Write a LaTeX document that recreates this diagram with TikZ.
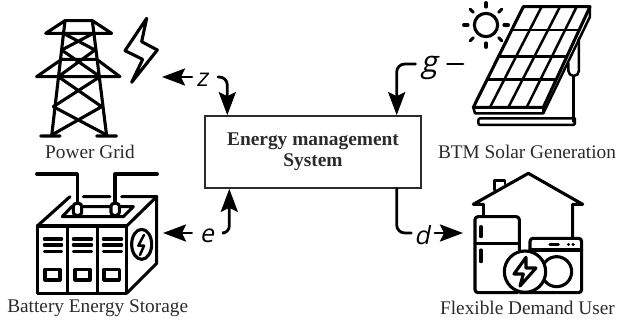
\documentclass[tikz,border=0pt]{standalone}
\usepackage{fontspec}
\setmainfont{Liberation Serif}
\newfontfamily\varfont[FakeSlant=0.2]{Open Sans}
\usetikzlibrary{arrows.meta}
\definecolor{txt}{HTML}{2B2B2B}
\tikzset{
  zoomed/.style={x=0.33333pt,y=-0.33333pt,line width=3.1pt,line cap=round,line join=round,black},
  thin part/.style={line width=2.5pt},
  caption/.style={font=\fontsize{19.3}{22}\selectfont,text=txt,inner sep=0pt},
  varlabel/.style={font=\varfont\fontsize{25}{25}\selectfont,text=black,inner sep=0pt},
  emsbox/.style={draw=txt,line width=1.7pt,fill=white,minimum width=215.7pt,minimum height=72pt,
     align=center,inner sep=0pt,text=txt,font=\bfseries\fontsize{19.4}{21}\selectfont},
  flow/.style={line width=2.8pt,black,line cap=round,-{Stealth[length=23pt,width=17pt,inset=4pt]}},
  flowplain/.style={line width=2.8pt,black,line cap=round},
}
\begin{document}
\begin{tikzpicture}[x=1pt,y=-1pt]
\useasboundingbox (0,0) rectangle (618,326);
\fill[white] (0,0) rectangle (618,326);

% power grid icon
\begin{scope}[zoomed]
  \draw (137,100)--(335,100) (195,62)--(277,62) (137,100)--(195,62) (335,100)--(277,62);
  \draw (110,230)--(360,230) (110,230)--(185,178)--(290,178)--(360,230);
  \draw (195,62)--(155,408) (277,62)--(320,408) (122,408)--(180,408) (290,408)--(350,408);
  \draw (190,100)--(285,150) (280,100)--(185,150) (185,150)--(300,230) (285,150)--(175,230);
  \draw (175,230)--(305,320) (300,230)--(160,320) (160,320)--(320,405) (305,320)--(155,405);
  \draw (440,55)--(375,152)--(428,178)--(395,247)--(472,150)--(425,125)--cycle;
\end{scope}

% battery icon
\begin{scope}[zoomed,shift={(0,480)}]
  \draw (112,198) rectangle (380,400);
  \draw (203,198)--(203,400) (292,198)--(292,400);
  \draw (380,198)--(470,110)--(470,310)--(380,400);
  \draw (112,198)--(210,110) (250,110)--(330,110) (365,110)--(470,110);
  \draw (110,42)--(232,42)--(232,130) (472,42)--(345,42)--(345,130);
  \draw (187,170)--(215,140)--(400,140)--(370,170)--cycle;
  \draw[fill=white,rounded corners=3pt] (220,130) rectangle (245,166);
  \draw[fill=white,rounded corners=3pt] (333,130) rectangle (358,166);
  \foreach \xa/\xb in {133/185,220/275,310/365}{
    \draw (\xa,237)--(\xb,237) (\xa,255)--(\xb,255) (\xa,275)--(\xb,275);
  }
  \draw (135,328) rectangle (180,360) (225,328) rectangle (270,360) (312,328) rectangle (358,360);
  \draw (425,253) ellipse [x radius=30,y radius=45];
  \draw[thin part] (432,225)--(415,257)--(432,257)--(420,285);
\end{scope}

% solar icon
\begin{scope}[zoomed,shift={(1140,0)}]
  \draw (318,75) circle [radius=35];
  \foreach \a in {0,45,...,315}{ \draw (318,75)++(\a:54)--++(\a:13); }
  \draw[fill=white] (430,20)--(630,20)--(490,322)--(280,322)--cycle;
  \draw[thin part] (280,322)--(285,340)--(490,340)--(490,322) (490,340)--(630,50)--(630,20);
  \draw[thin part] (395,90)--(598,90) (355,170)--(560,170) (322,238)--(529,238);
  \draw[thin part] (485,20)--(330,322) (540,20)--(385,322) (590,20)--(440,322);
  \draw[thin part] (597,115)--(597,212) arc[start angle=0,end angle=180,radius=16]--(565,190);
  \draw[thin part] (580,230)--(580,365);
  \draw[thin part,rounded corners=2pt] (580,355)--(295,355)--(295,375)--(585,375)--(585,355);
\end{scope}

% house icon
\begin{scope}[zoomed,shift={(1140,480)}]
  \draw (310,133)--(280,133)--(445,40)--(608,133)--(578,133)--(578,232);
  \draw (310,133)--(310,170);
  \draw[thin part] (343,90)--(343,62)--(375,62)--(375,72);
  \draw[rounded corners=3pt] (285,398)--(285,170)--(418,170)--(418,398)--cycle;
  \draw (285,250)--(418,250);
  \draw (303,200)--(303,230) (303,270)--(303,305);
  \draw[rounded corners=3pt] (450,290)--(450,235)--(605,235)--(605,398)--(420,398);
  \draw (450,270)--(605,270);
  \draw (510,253)--(535,253) (565,253)--(566,253) (579,253)--(580,253);
  \draw (530,335) circle [radius=45];
  \draw[fill=white] (435,335) circle [radius=62];
  \draw[line join=round] (438,292)--(402,342)--(430,342)--(420,378)--(468,324)--(438,324)--cycle;
\end{scope}

% captions
\node[caption] (gridcap) at (90,152) {Power Grid};
\node[caption] (batcap) at (97.7,308) {Battery Energy Storage};
\node[caption] (solcap) at (527,152) {BTM Solar Generation};
\node[caption] (demcap) at (527.5,308) {Flexible Demand User};

% controller
\node[emsbox] (ems) at (313,152) {Energy management\\System};

% variable labels
\node[varlabel] (zl) at (202,80) {z};
\node[varlabel] (el) at (207,236) {e};
\node[varlabel,font=\varfont\fontsize{30}{30}\selectfont] (gl) at (429,68) {g};
\node[varlabel] (dl) at (422,235) {d};

% ports
\coordinate (gridport) at (162,77);
\coordinate (batport) at (163,233);
\coordinate (solport) at (463,64);
\coordinate (demport) at (463,233);

% connectors
\draw[flow] ([xshift=-4pt]zl.west |- gridport) -- (gridport);
\draw[flow,rounded corners=8pt] ([xshift=10pt]zl.east |- gridport) -| ([xshift=23pt]ems.north west);
\draw[flow] ([xshift=-8pt]el.west |- batport) -- (batport);
\draw[flow,rounded corners=7pt] ([xshift=10pt]el.east |- batport) -| ([xshift=25pt]ems.south west);
\draw[flowplain] ([xshift=10pt]gl.east |- solport) -- (solport);
\draw[flow,rounded corners=8pt] ([xshift=-5pt]gl.west |- solport) -| ([xshift=-25pt]ems.north east);
\draw[flowplain,rounded corners=8pt] ([xshift=-25pt]ems.south east) |- ([xshift=-3pt]dl.west |- demport);
\draw[flow] ([xshift=5pt]dl.east |- demport) -- (demport);
\end{tikzpicture}
\end{document}
